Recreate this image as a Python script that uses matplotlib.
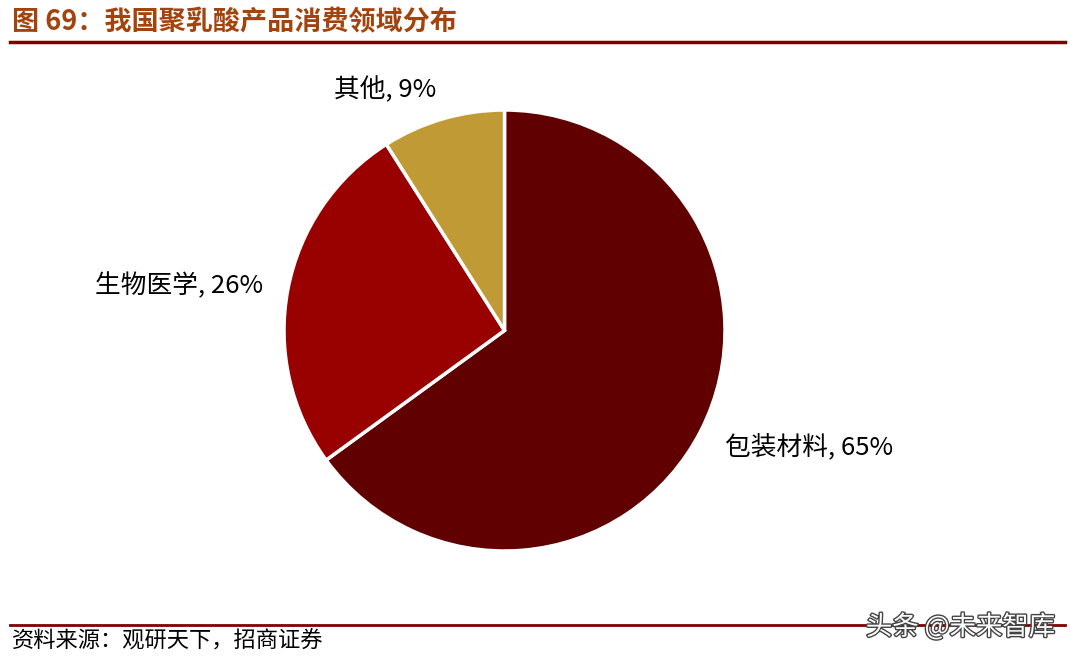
import matplotlib
matplotlib.use("Agg")
import matplotlib.pyplot as plt
import matplotlib.patheffects as pe

plt.rcParams['font.family'] = ['Noto Sans CJK SC', 'DejaVu Sans']

categories = ["包装材料", "生物医学", "其他"]
values = [65, 26, 9]
colors = ["#600000", "#990000", "#C09A35"]
title = "图 69：我国聚乳酸产品消费领域分布"
source = "资料来源：观研天下，招商证券"

W, H = 1070, 656
fig = plt.figure(figsize=(W / 100, H / 100), dpi=100)

# title and rules
fig.text(12 / W, 1 - 22 / H, title, fontsize=19.5, fontweight='bold', color="#A3440F",
         va='center', ha='left')
fig.add_artist(plt.Line2D([10 / W, 1065 / W], [1 - 42 / H, 1 - 42 / H], color="#800000", lw=2.5))
fig.add_artist(plt.Line2D([10 / W, 1065 / W], [1 - 625 / H, 1 - 625 / H], color="#800000", lw=2))
fig.text(12 / W, 1 - 641 / H, source, fontsize=16, color="#000000", va='center', ha='left')
fig.text(1055 / W, 1 - 627 / H, "头条 @未来智库", fontsize=19, color="#FFFFFF", va='center', ha='right',
         path_effects=[pe.withStroke(linewidth=2, foreground="#444444")])

# pie
cx, cy, r = 504.5, 330.5, 220.5
ax = fig.add_axes([(cx - r) / W, 1 - (cy + r) / H, 2 * r / W, 2 * r / H])
ax.pie(values, colors=colors, startangle=90, counterclock=False,
       wedgeprops=dict(edgecolor='white', linewidth=2.5))
ax.set_xlim(-1, 1)
ax.set_ylim(-1, 1)
ax.set_aspect('equal')
ax.axis('off')

labels = [f"{c}, {v}%" for c, v in zip(categories, values)]
ax.text(1.0, -0.53, labels[0], fontsize=18.5, ha='left', va='center', clip_on=False)
ax.text(-1.095, 0.204, labels[1], fontsize=18.5, ha='right', va='center', clip_on=False)
ax.text(-0.54, 1.093, labels[2], fontsize=18.5, ha='center', va='center', clip_on=False)

fig.savefig("out.png", dpi=100)
